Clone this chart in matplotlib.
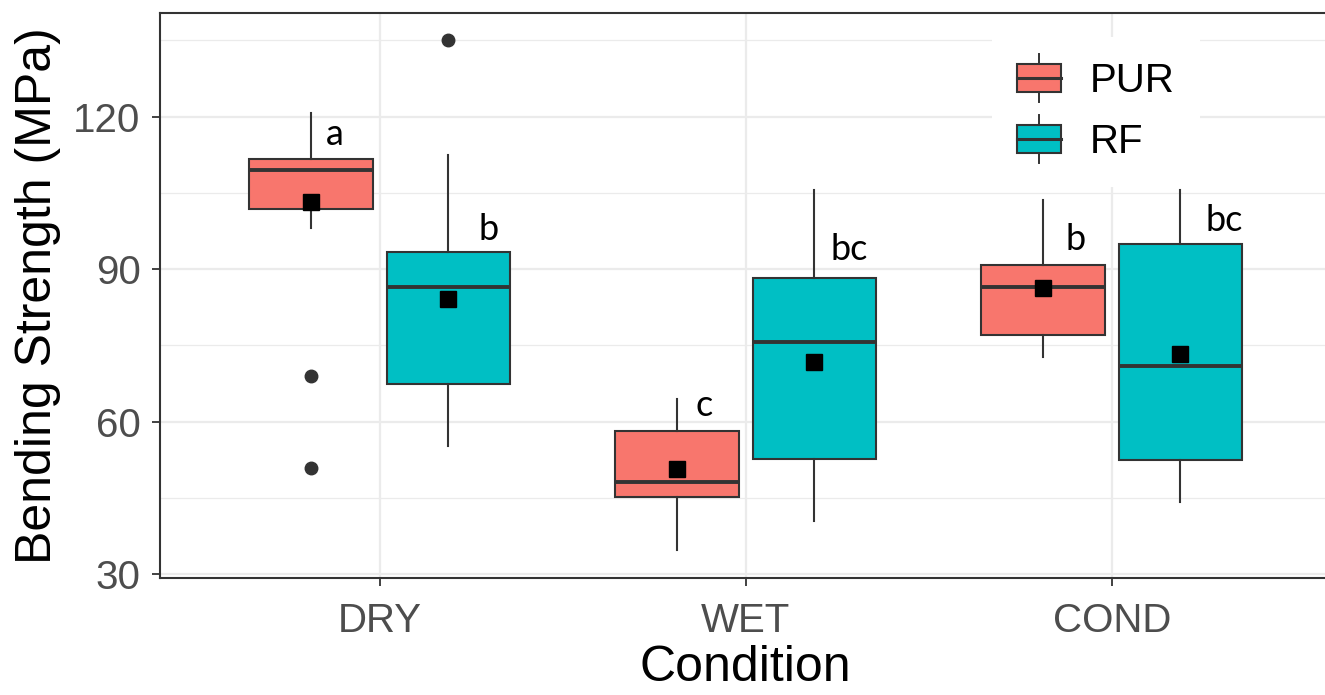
import matplotlib
matplotlib.use("Agg")
import matplotlib.pyplot as plt
from matplotlib.patches import Rectangle
from matplotlib.lines import Line2D
from matplotlib.legend_handler import HandlerBase

conditions = ["DRY", "WET", "COND"]
groups = ["PUR", "RF"]

# box summaries (MPa), one value per condition
pur_low = [98.0, 34.7, 72.6]
pur_q1 = [101.8, 45.2, 77.0]
pur_med = [109.5, 48.0, 86.5]
pur_q3 = [111.7, 58.1, 90.8]
pur_high = [120.7, 64.5, 103.5]
pur_mean = [103.3, 50.6, 86.2]
pur_out = [[69.0, 50.9], [], []]

rf_low = [55.1, 40.4, 44.1]
rf_q1 = [67.3, 52.6, 52.4]
rf_med = [86.5, 75.6, 70.9]
rf_q3 = [93.4, 88.2, 94.9]
rf_high = [112.5, 105.6, 105.6]
rf_mean = [84.2, 71.7, 73.2]
rf_out = [[135.1], [], []]

# significance letters and the height they sit at
pur_letters = ["a", "c", "b"]
rf_letters = ["b", "bc", "bc"]
pur_letter_y = [114.4, 61.1, 93.8]
rf_letter_y = [95.7, 91.7, 97.5]

PUR_COL = "#F8766D"
RF_COL = "#00BFC4"
EDGE = "#333333"
GRID = "#EBEBEB"


class BoxKey(HandlerBase):
    # small boxplot glyph for the legend, like ggplot's key
    def create_artists(self, legend, orig_handle, xdescent, ydescent,
                       width, height, fontsize, trans):
        x0, y0 = -xdescent, -ydescent
        cx = x0 + width / 2
        w = 0.37 * height
        box = Rectangle((x0, y0), width, height, facecolor=orig_handle.get_facecolor(),
                        edgecolor=EDGE, lw=1.5, transform=trans)
        mid = Line2D([x0, x0 + width], [y0 + height / 2] * 2, color=EDGE, lw=2.2, transform=trans)
        top = Line2D([cx, cx], [y0 + height, y0 + height + w], color=EDGE, lw=1.4, transform=trans)
        bot = Line2D([cx, cx], [y0 - w, y0], color=EDGE, lw=1.4, transform=trans)
        return [top, bot, box, mid]


def make_stats(low, q1, med, q3, high, mean, out):
    return [dict(whislo=low[i], q1=q1[i], med=med[i], q3=q3[i], whishi=high[i],
                 mean=mean[i], fliers=out[i]) for i in range(len(low))]


fig = plt.figure(figsize=(13.25, 6.95), dpi=100)
ax = fig.add_axes([160 / 1325, 1 - 578 / 695, 1171.5 / 1325, 565 / 695])

x = [1, 2, 3]
off = 0.1875
bw = 0.3375
common = dict(widths=bw, patch_artist=True, showmeans=True, showcaps=False,
              manage_ticks=False, zorder=3,
              medianprops=dict(color=EDGE, linewidth=2.8),
              whiskerprops=dict(color=EDGE, linewidth=1.5),
              flierprops=dict(marker="o", markerfacecolor=EDGE, markeredgecolor=EDGE, markersize=9),
              meanprops=dict(marker="s", markerfacecolor="black", markeredgecolor="black", markersize=11))

ax.bxp(make_stats(pur_low, pur_q1, pur_med, pur_q3, pur_high, pur_mean, pur_out),
       positions=[v - off for v in x],
       boxprops=dict(facecolor=PUR_COL, edgecolor=EDGE, linewidth=1.5), **common)
ax.bxp(make_stats(rf_low, rf_q1, rf_med, rf_q3, rf_high, rf_mean, rf_out),
       positions=[v + off for v in x],
       boxprops=dict(facecolor=RF_COL, edgecolor=EDGE, linewidth=1.5), **common)

pur_dx = [0.066, 0.075, 0.089]
rf_dx = [0.109, 0.094, 0.119]
for i in range(3):
    ax.text(x[i] - off + pur_dx[i], pur_letter_y[i], pur_letters[i], ha="center", va="baseline",
            fontsize=26, family="Lato", color="black", zorder=4)
    ax.text(x[i] + off + rf_dx[i], rf_letter_y[i], rf_letters[i], ha="center", va="baseline",
            fontsize=26, family="Lato", color="black", zorder=4)

ax.set_xlim(0.4, 3.6)
ax.set_ylim(29.2, 140.4)
ax.set_xticks(x)
ax.set_xticklabels(conditions)
ax.set_yticks([30, 60, 90, 120])
ax.set_yticks([45, 75, 105, 135], minor=True)
ax.grid(True, which="major", color=GRID, lw=1.6)
ax.grid(True, which="minor", axis="y", color=GRID, lw=0.9)
ax.set_axisbelow(True)

for s in ax.spines.values():
    s.set_color(EDGE)
    s.set_linewidth(1.5)

ax.tick_params(which="major", length=6, width=1.3, color=EDGE, labelsize=29,
               labelcolor="#4D4D4D")
ax.tick_params(axis="y", pad=8)
ax.tick_params(axis="x", pad=11)
ax.tick_params(which="minor", length=0)
for lab in ax.get_xticklabels() + ax.get_yticklabels():
    lab.set_family("Liberation Sans")

ax.set_xlabel("Condition", fontsize=36, family="Liberation Sans", labelpad=4)
ax.set_ylabel("Bending Strength (MPa)", fontsize=36, family="Liberation Sans", labelpad=9)

handles = [Rectangle((0, 0), 1, 1, facecolor=PUR_COL), Rectangle((0, 0), 1, 1, facecolor=RF_COL)]
leg = ax.legend(handles, groups, handler_map={Rectangle: BoxKey()},
                loc="upper left", bbox_to_anchor=(992 / 1325, 1 - 37 / 695),
                bbox_transform=fig.transFigure, borderaxespad=0, borderpad=0.63,
                handlelength=1.08, handleheight=0.68, handletextpad=0.72, labelspacing=0.57,
                prop=dict(family="Liberation Sans", size=29),
                frameon=True, fancybox=False, facecolor="white", edgecolor="none", framealpha=1)
for t in leg.get_texts():
    t.set_color("black")

fig.savefig("out.png", dpi=100)
